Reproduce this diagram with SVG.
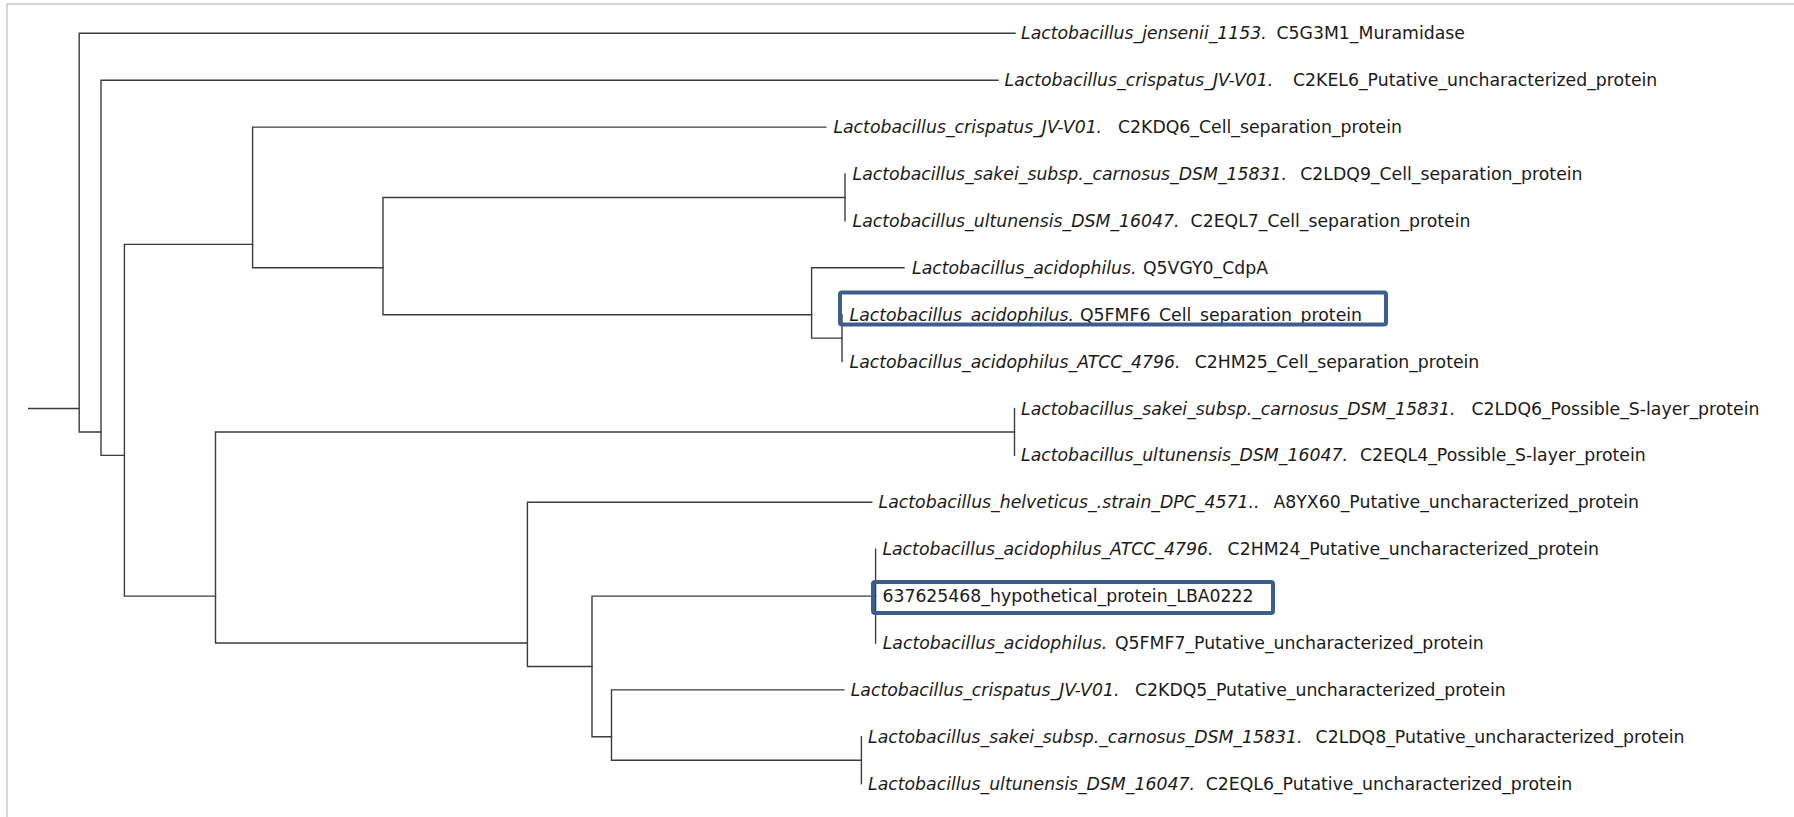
<svg xmlns="http://www.w3.org/2000/svg" width="1794" height="817" viewBox="0 0 1794 817">
<style>
.bg{fill:#ffffff}
.frame{stroke:#c8c8c8;stroke-width:1.5;fill:none}
.br{stroke:#3c3c3c;stroke-width:1.4;fill:none;stroke-linecap:square}
text{font-family:"DejaVu Sans","Verdana",sans-serif;font-size:17.3px;fill:#1a1a1a}
.sp{font-style:italic;font-size:17.3px}
.hl{fill:none;stroke:#3b5e8c;stroke-width:4}
</style>
<rect class="bg" x="0" y="0" width="1794" height="817"/>
<g id="frame"><path class="frame" d="M7,817 V4 H1794"/></g>
<g id="connectors">
<path class="br" d="M28.7,408.5 H79.2 M79.2,33.3 V431.95 M79.2,33.3 H1015 M79.2,431.95 H101"/>
<path class="br" d="M101,80.2 V455.4 M101,80.2 H998 M101,455.4 H124.4"/>
<path class="br" d="M124.4,244.35 V596.1 M124.4,244.35 H252.6 M124.4,596.1 H215.5"/>
<path class="br" d="M252.6,127.1 V267.8 M252.6,127.1 H825.8 M252.6,267.8 H383"/>
<path class="br" d="M383,197.45 V314.7 M383,197.45 H845 M383,314.7 H811.6"/>
<path class="br" d="M845,174 V220.9"/>
<path class="br" d="M811.6,267.8 V338.15 M811.6,267.8 H904 M811.6,338.15 H842"/>
<path class="br" d="M842,314.7 V361.6"/>
<path class="br" d="M215.5,431.95 V643 M215.5,431.95 H1014.5 M215.5,643 H527.4"/>
<path class="br" d="M1014.5,408.5 V455.4"/>
<path class="br" d="M527.4,502.3 V666.45 M527.4,502.3 H871.7 M527.4,666.45 H592"/>
<path class="br" d="M592,596.1 V736.8 M592,596.1 H875.6 M592,736.8 H611.5"/>
<path class="br" d="M875.6,549.2 V643"/>
<path class="br" d="M611.5,689.9 V760.25 M611.5,689.9 H843.8 M611.5,760.25 H861.4"/>
<path class="br" d="M861.4,736.8 V783.7"/>
</g>
<g id="leaf1"><text y="39.3"><tspan class="sp" x="1021">Lactobacillus_jensenii_1153.</tspan><tspan x="1276.5">C5G3M1_Muramidase</tspan></text></g>
<g id="leaf2"><text y="86.2"><tspan class="sp" x="1004.5">Lactobacillus_crispatus_JV-V01.</tspan><tspan x="1293">C2KEL6_Putative_uncharacterized_protein</tspan></text></g>
<g id="leaf3"><text y="133.1"><tspan class="sp" x="833.4">Lactobacillus_crispatus_JV-V01.</tspan><tspan x="1118">C2KDQ6_Cell_separation_protein</tspan></text></g>
<g id="leaf4"><text y="180"><tspan class="sp" x="852.6">Lactobacillus_sakei_subsp._carnosus_DSM_15831.</tspan><tspan x="1300.3">C2LDQ9_Cell_separation_protein</tspan></text></g>
<g id="leaf5"><text y="226.9"><tspan class="sp" x="852.6">Lactobacillus_ultunensis_DSM_16047.</tspan><tspan x="1190.6">C2EQL7_Cell_separation_protein</tspan></text></g>
<g id="leaf6"><text y="273.8"><tspan class="sp" x="912">Lactobacillus_acidophilus.</tspan><tspan x="1143">Q5VGY0_CdpA</tspan></text></g>
<g id="leaf7"><text y="320.7"><tspan class="sp" x="849.5">Lactobacillus_acidophilus.</tspan><tspan x="1080">Q5FMF6_Cell_separation_protein</tspan></text>
<rect class="hl" x="840" y="292.5" width="546" height="32" rx="2"/></g>
<g id="leaf8"><text y="367.6"><tspan class="sp" x="849.5">Lactobacillus_acidophilus_ATCC_4796.</tspan><tspan x="1194.7">C2HM25_Cell_separation_protein</tspan></text></g>
<g id="leaf9"><text y="414.5"><tspan class="sp" x="1021">Lactobacillus_sakei_subsp._carnosus_DSM_15831.</tspan><tspan x="1471.4">C2LDQ6_Possible_S-layer_protein</tspan></text></g>
<g id="leaf10"><text y="461.4"><tspan class="sp" x="1021">Lactobacillus_ultunensis_DSM_16047.</tspan><tspan x="1360">C2EQL4_Possible_S-layer_protein</tspan></text></g>
<g id="leaf11"><text y="508.3"><tspan class="sp" x="878.6">Lactobacillus_helveticus_.strain_DPC_4571..</tspan><tspan x="1273.5">A8YX60_Putative_uncharacterized_protein</tspan></text></g>
<g id="leaf12"><text y="555.2"><tspan class="sp" x="882.4">Lactobacillus_acidophilus_ATCC_4796.</tspan><tspan x="1227.6">C2HM24_Putative_uncharacterized_protein</tspan></text></g>
<g id="leaf13"><text x="882.4" y="602.1">637625468_hypothetical_protein_LBA0222</text>
<rect class="hl" x="873" y="582" width="400" height="31" rx="2"/></g>
<g id="leaf14"><text y="649"><tspan class="sp" x="882.7">Lactobacillus_acidophilus.</tspan><tspan x="1115">Q5FMF7_Putative_uncharacterized_protein</tspan></text></g>
<g id="leaf15"><text y="695.9"><tspan class="sp" x="850.7">Lactobacillus_crispatus_JV-V01.</tspan><tspan x="1135">C2KDQ5_Putative_uncharacterized_protein</tspan></text></g>
<g id="leaf16"><text y="742.8"><tspan class="sp" x="868">Lactobacillus_sakei_subsp._carnosus_DSM_15831.</tspan><tspan x="1315.6">C2LDQ8_Putative_uncharacterized_protein</tspan></text></g>
<g id="leaf17"><text y="789.7"><tspan class="sp" x="868">Lactobacillus_ultunensis_DSM_16047.</tspan><tspan x="1205.7">C2EQL6_Putative_uncharacterized_protein</tspan></text></g>
</svg>
